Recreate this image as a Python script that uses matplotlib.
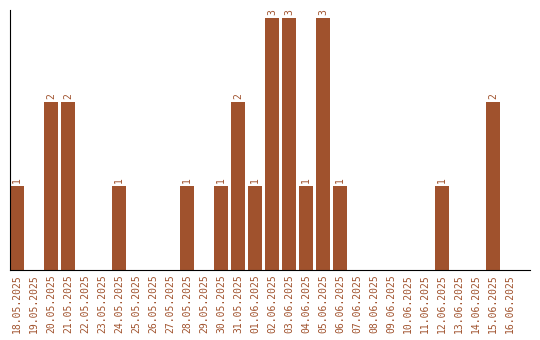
import matplotlib
matplotlib.use("Agg")
import matplotlib.pyplot as plt

dates = ["18.05.2025", "19.05.2025", "20.05.2025", "21.05.2025", "22.05.2025",
         "23.05.2025", "24.05.2025", "25.05.2025", "26.05.2025", "27.05.2025",
         "28.05.2025", "29.05.2025", "30.05.2025", "31.05.2025", "01.06.2025",
         "02.06.2025", "03.06.2025", "04.06.2025", "05.06.2025", "06.06.2025",
         "07.06.2025", "08.06.2025", "09.06.2025", "10.06.2025", "11.06.2025",
         "12.06.2025", "13.06.2025", "14.06.2025", "15.06.2025", "16.06.2025"]
counts = [1, 0, 2, 2, 0, 0, 1, 0, 0, 0, 1, 0, 1, 2, 1, 3, 3, 1, 3, 1,
          0, 0, 0, 0, 0, 1, 0, 0, 2, 0]

color = "#A0522D"
fig = plt.figure(figsize=(5.4, 3.4), dpi=100)
ax = fig.add_axes([10/540, 70/340, 520/540, 260/340])
x = list(range(len(dates)))
bars = ax.bar(x, counts, width=0.82, color=color)
for xi, v in zip(x, counts):
    if v > 0:
        ax.text(xi, v + 0.03, str(v), rotation=90, ha="center", va="bottom",
                color=color, fontsize=7, family="DejaVu Sans Mono")
ax.set_xlim(-0.41, 30.18)
ax.set_ylim(0, 3.095)
ax.set_xticks(x)
ax.set_xticklabels(dates, rotation=90, color=color, fontsize=7,
                   family="DejaVu Sans Mono")
ax.tick_params(axis="x", length=0, pad=3)
ax.set_yticks([])
ax.spines["top"].set_visible(False)
ax.spines["right"].set_visible(False)
fig.savefig("out.png", dpi=100)
